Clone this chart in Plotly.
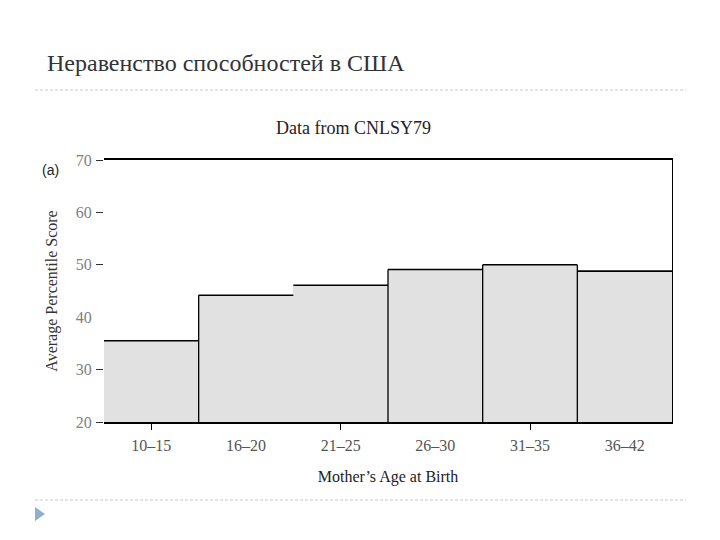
import plotly.graph_objects as go

categories = ["10–15", "16–20", "21–25", "26–30", "31–35", "36–42"]
scores = [35.5, 44.2, 46.1, 49.1, 50.0, 48.8]
y_ticks = [20, 30, 40, 50, 60, 70]
y_tick_marks = [20, 30, 50, 60, 70]
x_tick_marks = [0, 2, 4]
separator_after = [0, 2, 3, 4]  # vertical lines drawn at right edge of these bars

pos = list(range(len(categories)))
serif = "Liberation Serif, DejaVu Serif, serif"

# page body has 8px default margin -> compensate
OFF = 8
L, R, T, B = 104 - OFF, 720 - 672 + OFF, 160 - OFF, 540 - 422 + OFF
PW, PH = 672 - 104, 422 - 160

def px_x(x):
    return (x - 104) / PW

def px_y(y):
    return (422 - y) / PH

fig = go.Figure()
fig.add_trace(go.Bar(x=pos, y=[s - 20 for s in scores], base=20, width=1.0,
                     marker=dict(color="#e1e1e1", line=dict(width=0)),
                     hoverinfo="skip", showlegend=False))

tx, ty = [], []
for i, s in enumerate(scores):
    tx += [i - 0.5, i + 0.5, None]
    ty += [s, s, None]
fig.add_trace(go.Scatter(x=tx, y=ty, mode="lines", line=dict(color="black", width=1.6),
                         hoverinfo="skip", showlegend=False, cliponaxis=False))
vx, vy = [], []
for i in separator_after:
    vx += [i + 0.5, i + 0.5, None]
    vy += [20, max(scores[i], scores[i + 1]), None]
fig.add_trace(go.Scatter(x=vx, y=vy, mode="lines", line=dict(color="black", width=1.3),
                         hoverinfo="skip", showlegend=False))

fig.update_layout(
    width=720, height=540, autosize=False,
    paper_bgcolor="white", plot_bgcolor="white",
    margin=dict(l=L, r=R, t=T, b=B, autoexpand=False),
    bargap=0,
    xaxis=dict(range=[-0.5, 5.5], tickvals=pos, ticktext=categories,
               ticks="outside", ticklen=8, tickcolor="rgba(0,0,0,0)",
               showgrid=False, zeroline=False, showline=True, mirror=True,
               linecolor="black", linewidth=1.6,
               tickfont=dict(family=serif, size=16, color="#555"),
               title=dict(text="Mother’s Age at Birth", standoff=18,
                          font=dict(family=serif, size=16, color="#222"))),
    xaxis2=dict(range=[-0.5, 5.5], overlaying="x", side="bottom", anchor="y",
                tickvals=x_tick_marks, ticks="outside", ticklen=7, tickcolor="black",
                tickwidth=1, showticklabels=False, showgrid=False, zeroline=False),
    yaxis=dict(range=[20, 70], tickvals=y_ticks,
               ticks="outside", ticklen=8, tickcolor="rgba(0,0,0,0)",
               showgrid=False, zeroline=False, showline=False,
               tickfont=dict(family=serif, size=16, color="#808080"),
               title=dict(text="Average Percentile Score", standoff=14,
                          font=dict(family=serif, size=16, color="#333"))),
    yaxis2=dict(range=[20, 70], overlaying="y", side="left", anchor="x",
                tickvals=y_tick_marks, ticks="outside", ticklen=7, tickcolor="#333",
                tickwidth=1, showticklabels=False, showgrid=False, zeroline=False),
    yaxis3=dict(range=[20, 70], overlaying="y", side="right", anchor="x",
                showline=True, linecolor="black", linewidth=1.4, ticks="",
                showticklabels=False, showgrid=False, zeroline=False),
    shapes=[
        dict(type="line", xref="paper", yref="paper", x0=px_x(35), x1=px_x(686),
             y0=px_y(90), y1=px_y(90),
             line=dict(color="#c4c9ce", width=1, dash="3px,2px")),
        dict(type="line", xref="paper", yref="paper", x0=px_x(35), x1=px_x(686),
             y0=px_y(500), y1=px_y(500),
             line=dict(color="#c4c9ce", width=1, dash="3px,2px")),
        dict(type="path", xref="paper", yref="paper",
             path=f"M {px_x(35)} {px_y(507)} L {px_x(45)} {px_y(514)} L {px_x(35)} {px_y(521)} Z",
             fillcolor="#8fb0cc", line=dict(width=0)),
    ],
    annotations=[
        dict(text="Неравенство способностей в США", xref="paper", yref="paper",
             x=px_x(45), y=px_y(63), xanchor="left", yanchor="middle",
             showarrow=False, font=dict(family=serif, size=24, color="#333")),
        dict(text="Data from CNLSY79", xref="paper", yref="paper",
             x=px_x(353), y=px_y(128), xanchor="center", yanchor="middle",
             showarrow=False, font=dict(family=serif, size=18, color="#222")),
        dict(text="(a)", xref="paper", yref="paper",
             x=px_x(40), y=px_y(170), xanchor="left", yanchor="middle",
             showarrow=False, font=dict(family="Liberation Sans, Arial, sans-serif",
                                         size=14, color="#222")),
    ],
)
fig.add_trace(go.Scatter(x=[None], y=[None], xaxis="x2", yaxis="y", showlegend=False, hoverinfo="skip"))
fig.add_trace(go.Scatter(x=[None], y=[None], xaxis="x", yaxis="y2", showlegend=False, hoverinfo="skip"))
fig.add_trace(go.Scatter(x=[None], y=[None], xaxis="x", yaxis="y3", showlegend=False, hoverinfo="skip"))

fig.write_html("out.html")
